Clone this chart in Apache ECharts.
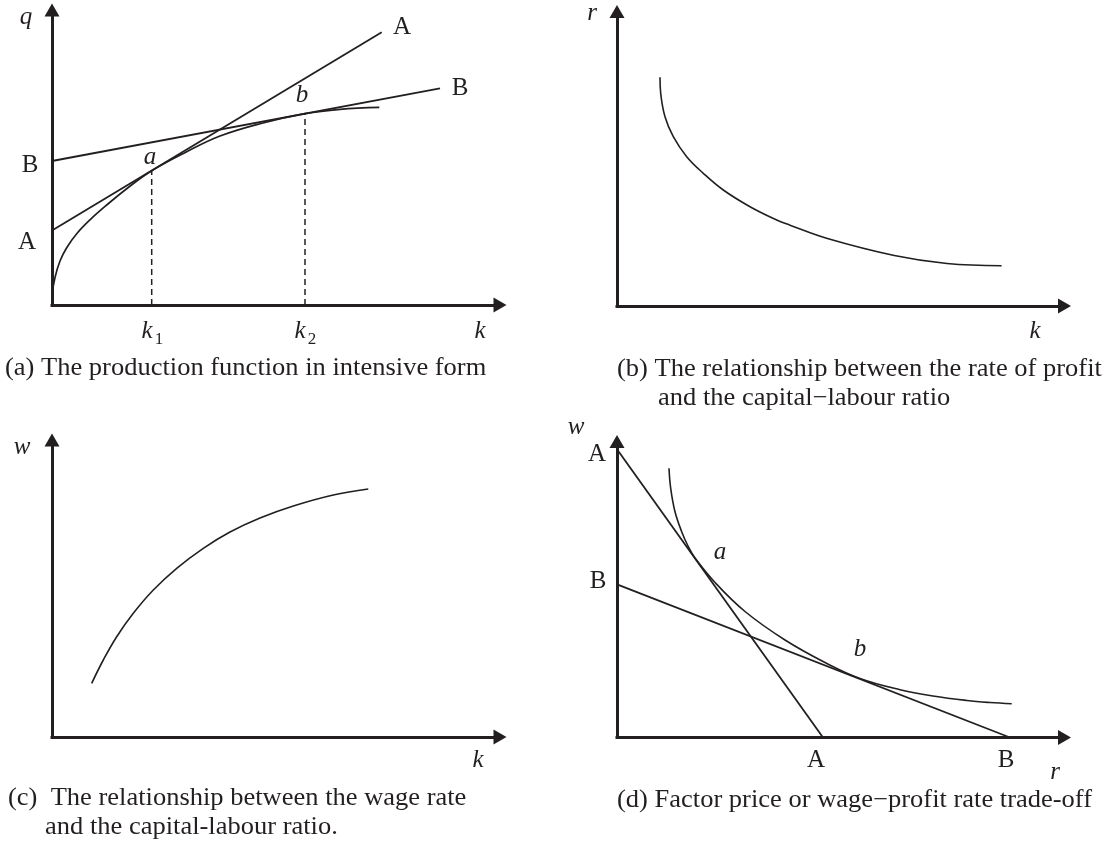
<!DOCTYPE html>
<html>
<head>
<meta charset="utf-8">
<title>Production function, profit rate, wage rate and factor price frontier</title>
<script src="https://cdn.jsdelivr.net/npm/echarts@6/dist/echarts.min.js"></script>
<style>
    html, body { margin: 0; padding: 0; background: #fff; }
    #chart { width: 1109px; height: 843px; }
</style>
</head>
<body>
<div id="chart"></div>
<script>

// (a) production function in intensive form, q against k
var prodCurve = [[0, 0], [0.3, 11], [3, 27.5], [8, 44], [14.7, 57.3], [24.7, 71.3], [38, 85.2],
    [54.7, 100], [74.7, 116.3], [99.7, 134.3], [134.7, 153.3], [168, 169], [208, 181.3],
    [253, 191.3], [288, 195.7], [327.3, 197.7]];
var tangentA = [[0, 74.5], [329.7, 272.7]];
var tangentB = [[0, 144], [388, 216.7]];
var dropK1 = [[99.7, 0], [99.7, 134.3]];
var dropK2 = [[253, 0], [253, 191.3]];

// (b) rate of profit r against k
var profitCurve = [[43, 228.7], [43.7, 212.7], [48, 189.3], [56.3, 169.3], [69.7, 149.3],
    [86.3, 132.7], [106.3, 116], [133, 99.3], [159.7, 86], [173, 80.8], [210.4, 67.5],
    [277.3, 50.5], [330, 42.5], [384.6, 40.3]];

// (c) wage rate w against k
var wageCurve = [[39.7, 53.7], [51.3, 77], [64.7, 100.3], [81.3, 123.7], [101.3, 147],
    [124.7, 168.7], [151.3, 188.7], [178, 205], [208, 219], [241.3, 231],
    [281.3, 242], [316.3, 248]];

// (d) wage-profit frontier, w against r
var frontier = [[52, 269.2], [53.7, 249.2], [58, 225.8], [64.7, 205.8], [71, 191.5], [78, 179.4],
    [98, 155], [128, 126], [168, 97.5], [208, 75], [243, 59], [283, 47.8], [316, 41.5],
    [350, 37], [373, 35], [394.7, 33.8]];
var wageLineA = [[0, 288.2], [206, 0]];
var wageLineB = [[0, 153.2], [393, 0]];

// 四个面板的位置
var panels = [
    {left: 52, top: 10, width: 448, height: 295},
    {left: 617, top: 11.5, width: 447.5, height: 294.5},
    {left: 52, top: 440, width: 448, height: 297},
    {left: 617, top: 441.5, width: 447.5, height: 296}
];

var ink = '#231f20';
var serif = '"Liberation Serif", "DejaVu Serif", serif';

function axisLine() {
    return {
        show: true,
        onZero: false,
        symbol: ['none', 'triangle'],
        symbolSize: [15, 13],
        lineStyle: {color: ink, width: 3, cap: 'square'}
    };
}

function makeAxis(i, max) {
    return {
        type: 'value',
        gridIndex: i,
        min: 0,
        max: max,
        axisLine: axisLine(),
        axisTick: {show: false},
        axisLabel: {show: false},
        splitLine: {show: false}
    };
}

function curve(i, data, width, smooth, dashed) {
    return {
        type: 'line',
        xAxisIndex: i,
        yAxisIndex: i,
        data: data,
        smooth: smooth,
        showSymbol: false,
        clip: false,
        silent: true,
        lineStyle: {color: ink, width: width, type: dashed ? [6, 4] : 'solid'}
    };
}

// 文字标注
function txt(x, y, s, italic, size, extra) {
    var el = {
        type: 'text',
        x: x,
        y: y,
        silent: true,
        style: {
            text: s,
            font: (italic ? 'italic ' : '') + (size || 25) + 'px ' + serif,
            fill: ink,
            align: 'center',
            verticalAlign: 'middle',
            textAlign: 'center',
            textVerticalAlign: 'middle'
        }
    };
    if (extra) {
        for (var k in extra) el[k] = extra[k];
    }
    return el;
}

function caption(x, y, s) {
    var el = txt(x, y, s, false, 25, {scaleX: 1.06});
    el.style.align = 'left';
    el.style.textAlign = 'left';
    return el;
}

var labels = [
    // (a)
    txt(26, 17, 'q', true), txt(402, 27, 'A'), txt(460, 88, 'B'), txt(302, 95, 'b', true),
    txt(150, 157, 'a', true), txt(30, 165, 'B'), txt(27, 242, 'A'),
    txt(147, 331, 'k', true), txt(159, 340, '1', false, 17),
    txt(300, 331, 'k', true), txt(312, 340, '2', false, 17),
    txt(480, 331, 'k', true),
    caption(5, 368, '(a) The production function in intensive form'),
    // (b)
    txt(592, 13, 'r', true), txt(1035, 331, 'k', true),
    caption(617, 369, '(b) The relationship between the rate of profit'),
    caption(658, 398, 'and the capital\u2212labour ratio'),
    // (c)
    txt(22, 447, 'w', true), txt(478, 760, 'k', true),
    caption(8, 798, '(c)  The relationship between the wage rate'),
    caption(45, 827, 'and the capital-labour ratio.'),
    // (d)
    txt(576, 427, 'w', true), txt(597, 454, 'A'), txt(598, 581, 'B'),
    txt(720, 552, 'a', true), txt(860, 649, 'b', true),
    txt(816, 760, 'A'), txt(1006, 760, 'B'), txt(1055, 772, 'r', true),
    caption(617, 800, '(d) Factor price or wage\u2212profit rate trade-off')
];

var chart = echarts.init(document.getElementById('chart'));
chart.setOption({
    backgroundColor: '#fff',
    animation: false,
    grid: panels.map(function (p) {
        return {left: p.left, top: p.top, width: p.width, height: p.height,
            containLabel: false, outerBoundsMode: 'none'};
    }),
    xAxis: panels.map(function (p, i) { return makeAxis(i, p.width); }),
    yAxis: panels.map(function (p, i) { return makeAxis(i, p.height); }),
    series: [
        curve(0, prodCurve, 1.7, 0.4),
        curve(0, tangentA, 1.8, false),
        curve(0, tangentB, 1.8, false),
        curve(0, dropK1, 1.5, false, true),
        curve(0, dropK2, 1.5, false, true),
        curve(1, profitCurve, 1.6, 0.4),
        curve(2, wageCurve, 1.6, 0.4),
        curve(3, frontier, 1.6, 0.4),
        curve(3, wageLineA, 1.8, false),
        curve(3, wageLineB, 1.8, false)
    ],
    graphic: labels
});
</script>
</body>
</html>
